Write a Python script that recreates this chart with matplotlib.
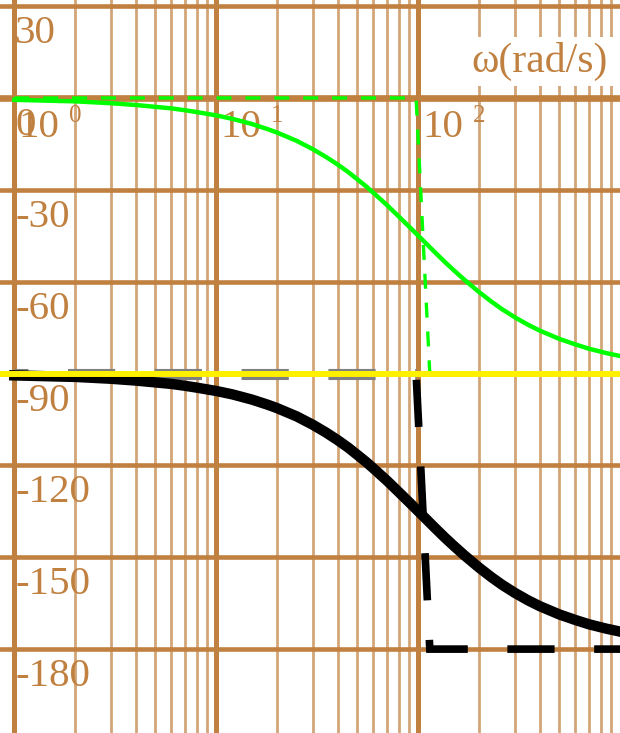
import matplotlib
matplotlib.use("Agg")
import matplotlib.pyplot as plt

plt.rcParams['lines.scale_dashes'] = False
plt.rcParams['font.family'] = ['Liberation Serif', 'DejaVu Serif']

# frequency (rad/s) and phase (deg)
w = [1, 1.5, 2, 3, 4, 5, 6, 7, 8, 10, 12, 15, 18, 20, 25, 30, 35, 40, 45, 50,
     55, 60, 70, 80, 90, 100, 110, 120, 135, 150, 170, 200, 230, 260, 300,
     350, 400, 500, 600, 700, 850, 1000]
phase_green = [-0.6, -0.9, -1.1, -1.7, -2.3, -2.9, -3.4, -4.0, -4.6, -5.7,
               -6.8, -8.5, -10.2, -11.3, -14.0, -16.7, -19.3, -21.8, -24.2,
               -26.6, -28.8, -31.0, -35.0, -38.7, -42.0, -45.0, -47.7, -50.2,
               -53.5, -56.3, -59.5, -63.4, -66.5, -69.0, -71.6, -74.1, -76.0,
               -78.7, -80.5, -81.9, -83.3, -84.3]
phase_black = [-90.6, -90.9, -91.1, -91.7, -92.3, -92.9, -93.4, -94.0, -94.6,
               -95.7, -96.8, -98.5, -100.2, -101.3, -104.0, -106.7, -109.3,
               -111.8, -114.2, -116.6, -118.8, -121.0, -125.0, -128.7, -132.0,
               -135.0, -137.7, -140.2, -143.5, -146.3, -149.5, -153.4, -156.5,
               -159.0, -161.6, -164.1, -166.0, -168.7, -170.5, -171.9, -173.3,
               -174.3]

# straight-line asymptotes
w_asym = [1, 97.5, 114, 1000]
asym_green = [0, 0, -90, -90]
asym_black = [-90, -90, -180, -180]
yellow_level = -90

decades = [0, 1, 2]
phase_ticks = [30, 0, -30, -60, -90, -120, -150, -180]
xlabel = "ω(rad/s)"

brown = '#C08040'

fig = plt.figure(figsize=(6.2, 7.33), dpi=100)
ax = fig.add_axes([0, 0, 1, 1])
ax.set_xscale('log')
ax.set_xlim(10 ** -0.0708, 10 ** 2.9985)
ax.set_ylim(-207.4, 32.0)
ax.axis('off')

# grid
for d in decades:
    for k in range(2, 10):
        ax.axvline(k * 10 ** d, color=brown, lw=2.0, alpha=0.7, zorder=0)
    ax.axvline(10 ** d, color=brown, lw=3.6, zorder=0.5)
for p in phase_ticks:
    ax.axhline(p, color=brown, lw=3.3 if p != 0 else 4.8, zorder=0.5)

# tick labels
for p in phase_ticks:
    ax.annotate(str(p), xy=(1, p), xytext=(1, -37), textcoords='offset pixels',
                ha='left', va='baseline', fontsize=29.5, color=brown, zorder=1)
for d in decades:
    ax.annotate("10", xy=(10 ** d, 0), xytext=(4, -39), textcoords='offset pixels',
                ha='left', va='baseline', fontsize=29.5, color=brown, zorder=1)
    ax.annotate(str(d), xy=(10 ** d, 0), xytext=(55, -24), textcoords='offset pixels',
                ha='left', va='baseline', fontsize=18, color=brown, zorder=1)

fig.text(471, 733 - 72, xlabel, transform=None, fontsize=30, color=brown,
         ha='left', va='baseline', zorder=1,
         bbox=dict(facecolor='white', edgecolor='none', pad=4))

# asymptotes
ax.plot(w_asym[:2], asym_black[:2], color='#808080', lw=8,
        ls=(24, (34, 28.5)), dash_capstyle='butt', zorder=3)
ax.plot(w_asym[1:], asym_black[1:], color='black', lw=5.5,
        ls=(58, (34, 28.5)), dash_capstyle='butt', dash_joinstyle='miter', zorder=3)

# curves
ax.plot(w, phase_black, color='black', lw=7.5, solid_joinstyle='round', zorder=4)
ax.plot(w, phase_green, color='#00FF00', lw=3.2, solid_joinstyle='round', zorder=6)
ax.plot(w_asym, asym_green, color='#00FF00', lw=2.4,
        ls=(0, (10.8, 10)), dash_capstyle='butt', zorder=6)
ax.axhline(yellow_level, color='#FFF000', lw=4.3, zorder=7)

fig.savefig('out.png', dpi=100)
